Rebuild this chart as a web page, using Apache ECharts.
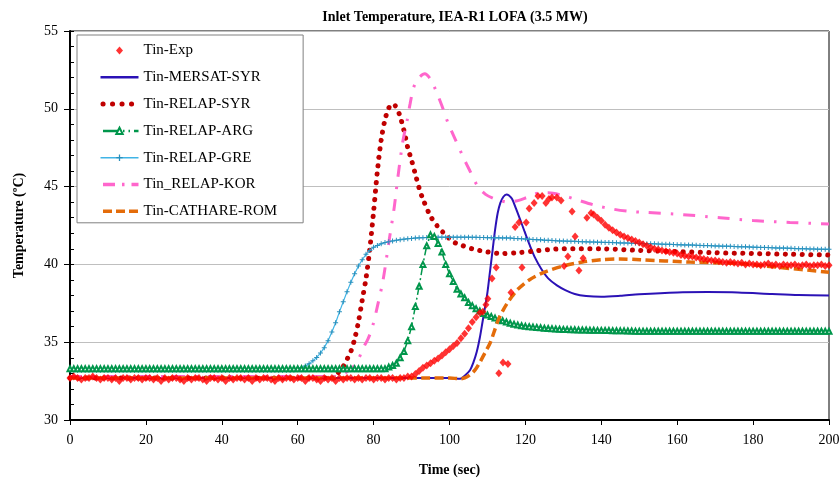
<!DOCTYPE html>
<html><head><meta charset="utf-8">
<script src="https://cdn.jsdelivr.net/npm/echarts@6/dist/echarts.min.js"></script>
<style>html,body{margin:0;padding:0;background:#fff}#c{width:840px;height:483px}</style>
</head><body><div id="c"></div>
<script>
// ---- data ----
const seriesNames = ['Tin-Exp','Tin-MERSAT-SYR','Tin-RELAP-SYR','Tin-RELAP-ARG','Tin-RELAP-GRE','Tin_RELAP-KOR','Tin-CATHARE-ROM'];
const xTicks = [0,20,40,60,80,100,120,140,160,180,200];
const yTicks = [30,35,40,45,50,55];

// Experiment: flat part, one value per second from t = 0 s
const expFlat = [32.7,32.8,32.7,32.6,32.7,32.7,32.8,32.7,32.6,32.7,
 32.7,32.6,32.7,32.5,32.7,32.7,32.6,32.7,32.7,32.6,
 32.7,32.7,32.6,32.7,32.5,32.7,32.6,32.7,32.7,32.6,
 32.5,32.7,32.6,32.7,32.7,32.6,32.5,32.7,32.7,32.6,
 32.7,32.5,32.7,32.6,32.7,32.7,32.6,32.7,32.5,32.7,
 32.6,32.7,32.7,32.6,32.5,32.7,32.6,32.7,32.7,32.6,
 32.7,32.7,32.5,32.7,32.7,32.6,32.5,32.7,32.6,32.7,
 32.5,32.7,32.6,32.7,32.7,32.6,32.7,32.6,32.7,32.7,
 32.6,32.7,32.7,32.6,32.7,32.7,32.6,32.7,32.7,32.8,32.8];
// Experiment: transient part [time, value]
const expTransient = [[91,32.95],[92,33.15],[93,33.35],[94,33.5],[95,33.65],[96,33.8],[97,33.95],[98,34.15],[99,34.35],[100,34.55],
 [101,34.75],[102,34.95],[103,35.25],[104,35.55],[105,35.9],[106,36.3],[107,36.6],[108,36.9],[108.8,36.95],[109.6,37.4],[110.1,37.8],
 [111.2,39.1],[112.3,39.8],[113.0,33.0],[114.1,33.7],[115.4,33.6],[116.2,38.2],[117.3,42.4],[118.3,42.7],[119.1,39.8],[120.2,42.7],
 [121.0,43.6],[122.3,43.95],[123.3,44.4],[124.4,44.4],[125.4,43.95],[126.2,44.2],[127.0,44.3],[128.3,44.3],[129.4,44.1],[130.2,39.9],
 [131.2,40.5],[132.3,43.4],[133.1,41.8],[134.1,39.6],[135.2,40.4],[136.2,43.0],[137.3,43.3]];
// Experiment: tail, one value per second from t = 138 s
const expTail = [43.2,43.0,42.8,42.55,42.35,42.2,42.05,41.9,41.8,41.7,41.6,41.5,41.4,
 41.3,41.2,41.1,41.0,40.95,40.9,40.85,40.8,40.75,40.7,
 40.6,40.55,40.5,40.5,40.45,40.4,40.35,40.3,40.25,40.25,
 40.2,40.15,40.1,40.15,40.1,40.05,40.1,40.0,40.05,40.0,
 40.0,39.95,40.0,40.05,39.95,40.0,39.9,40.0,39.95,39.95,
 40.0,39.9,39.95,40.0,39.9,39.95,39.95,40.0,39.9,39.95];

const mersatSyr = [[0,32.7],[100,32.7],[102.8,32.65],[104,32.85],[105.4,33.2],[106.3,33.7],[107.2,34.4],[108,35.3],[108.7,36.3],
 [109.4,37.3],[110,38.2],[110.7,39.6],[111.4,41.0],[112,42.2],[112.7,43.3],[113.4,43.95],[114.2,44.35],[115.0,44.5],[115.6,44.45],
 [116.5,44.2],[117.5,43.6],[118.6,42.9],[119.8,42.1],[121.2,41.2],[122.6,40.4],[124.2,39.7],[126,39.1],[128.3,38.65],[130.5,38.35],
 [133,38.1],[136,37.97],[140,37.92],[145,37.98],[150,38.08],[160,38.2],[168,38.22],[176,38.2],[185,38.1],[192,38.03],[200,38.0]];

const relapSyr = [[0,32.7],[70,32.7],[70.6,33.0],[71.9,33.4],[73,33.9],[74,34.4],[75,35.2],[76,36.3],[77,37.7],[78,39.1],
 [79,41.0],[80,43.4],[81,46.0],[82,48.0],[83,49.3],[84,50.05],[84.8,50.3],[85.5,50.25],[86.2,50.0],[87,49.5],[88,48.6],
 [89,47.5],[90,46.7],[91,45.8],[92,44.9],[93,44.2],[95,43.1],[97,42.4],[99,41.9],[101,41.45],[103,41.25],[106,41.0],
 [110,40.8],[114,40.7],[118,40.75],[122,40.85],[126,40.95],[130,41.0],[140,41.0],[150,40.9],[160,40.82],[170,40.75],
 [180,40.7],[190,40.65],[200,40.6]];

// RELAP-ARG, one value per second from t = 0 s
const relapArg = [33.3,33.3,33.3,33.3,33.3,33.3,33.3,33.3,33.3,33.3,
 33.3,33.3,33.3,33.3,33.3,33.3,33.3,33.3,33.3,33.3,
 33.3,33.3,33.3,33.3,33.3,33.3,33.3,33.3,33.3,33.3,
 33.3,33.3,33.3,33.3,33.3,33.3,33.3,33.3,33.3,33.3,
 33.3,33.3,33.3,33.3,33.3,33.3,33.3,33.3,33.3,33.3,
 33.3,33.3,33.3,33.3,33.3,33.3,33.3,33.3,33.3,33.3,
 33.3,33.3,33.3,33.3,33.3,33.3,33.3,33.3,33.3,33.3,
 33.3,33.3,33.3,33.3,33.3,33.3,33.3,33.3,33.3,33.3,
 33.3,33.3,33.3,33.3,
 33.4,33.5,33.65,34.0,34.4,35.1,36.0,37.3,38.6,40.0,41.2,41.9,41.8,41.35,40.8,40.0,
 39.4,38.9,38.4,38.1,37.85,37.55,37.35,37.15,37.0,36.85,36.75,36.65,36.55,36.45,36.38,36.3,
 36.22,36.16,36.1,36.06,36.02,36.0,35.97,35.95,35.93,35.9,35.88,35.87,35.85,35.84,35.82,35.81,
 35.8,35.8,35.79,35.78,35.78,35.77,35.77,35.76,35.76,
 35.75,35.75,35.74,35.74,35.73,35.73,35.72,35.72,35.71,35.71,
 35.7,35.7,35.7,35.7,35.7,35.7,35.7,35.7,35.7,35.7,
 35.7,35.7,35.7,35.7,35.7,35.7,35.7,35.7,35.7,35.7,
 35.7,35.7,35.7,35.7,35.7,35.7,35.7,35.7,35.7,35.7,
 35.7,35.7,35.7,35.7,35.7,35.7,35.7,35.7,35.7,35.7,
 35.7,35.7,35.7,35.7,35.7,35.7,35.7,35.7,35.7,35.7];

// RELAP-GRE, one value per second from t = 0 s
const relapGre = [33.2,33.2,33.2,33.2,33.2,33.2,33.2,33.2,33.2,33.2,
 33.2,33.2,33.2,33.2,33.2,33.2,33.2,33.2,33.2,33.2,
 33.2,33.2,33.2,33.2,33.2,33.2,33.2,33.2,33.2,33.2,
 33.2,33.2,33.2,33.2,33.2,33.2,33.2,33.2,33.2,33.2,
 33.2,33.2,33.2,33.2,33.2,33.2,33.2,33.2,33.2,33.2,
 33.2,33.2,33.2,33.2,33.2,33.2,33.2,33.2,33.2,
 33.22,33.28,33.36,33.47,33.62,33.8,34.02,34.3,34.65,35.1,35.65,36.25,36.95,37.6,38.25,38.85,
 39.4,39.9,40.3,40.65,40.9,41.1,41.22,41.32,41.4,41.46,41.51,41.55,41.59,41.62,41.65,41.67,
 41.69,41.71,41.72,41.73,41.74,
 41.75,41.75,41.75,41.75,41.75,41.75,41.75,41.75,41.75,41.75,
 41.74,41.74,41.73,41.73,41.72,41.72,41.71,41.71,41.7,41.7,
 41.69,41.67,41.66,41.65,41.63,41.62,41.6,41.59,41.58,41.56,41.55,41.54,41.52,41.51,41.5,
 41.49,41.48,41.48,41.47,41.46,41.45,41.44,41.44,41.43,41.42,
 41.41,41.41,41.4,41.39,41.38,41.38,41.37,41.36,41.36,41.35,
 41.34,41.33,41.33,41.32,41.31,41.3,41.29,41.29,41.28,41.27,
 41.26,41.25,41.25,41.24,41.23,41.22,41.21,41.21,41.2,41.19,
 41.18,41.17,41.17,41.16,41.15,41.14,41.13,41.13,41.12,41.11,
 41.1,41.09,41.09,41.08,41.07,41.06,41.05,41.05,41.04,41.03,
 41.02,41.01,41.01,41.0,40.99,40.99,40.98,40.98,40.97,40.97];

const relapKor = [[0,32.8],[70,32.8],[72,32.95],[74.6,33.4],[76,33.9],[77.2,34.6],[78.5,35.2],[79.6,35.9],[81,37.3],[82.5,39.0],
 [84,41.4],[85.4,43.6],[86.4,45.6],[87.7,47.9],[88.8,49.2],[89.6,50.3],[90.6,51.4],[92,52.0],[93.5,52.25],[95,51.9],[96.2,51.3],
 [98,50.2],[99.6,49.1],[101.4,48.1],[103.6,46.9],[105.4,46.0],[107.5,45.0],[109.5,44.5],[111.5,44.25],[113.5,44.1],[115.4,44.0],
 [118,44.1],[120.4,44.3],[123.8,44.6],[126,44.6],[129.6,44.45],[133.6,44.15],[138.3,43.8],[143.1,43.55],[147.6,43.4],[151,43.35],
 [161.5,43.2],[171.3,43.0],[180,42.82],[189.7,42.7],[200,42.6]];

const cathareRom = [[0,32.7],[100,32.7],[102.8,32.65],[104,32.7],[105.4,32.9],[106.7,33.2],[108,33.7],[109.3,34.3],[110.7,34.95],
 [111.8,35.7],[112.8,36.4],[114,37.0],[115.2,37.5],[116.5,37.95],[118,38.4],[121,39.0],[125,39.5],[130,39.9],[135,40.15],
 [140,40.3],[145,40.35],[150.2,40.3],[163.4,40.15],[176.5,40.05],[187.1,39.8],[200,39.5]];

// ---- chart ----
const SERIF = 'Liberation Serif';
const perSecond = (arr, t0) => arr.map((v, i) => [t0 + i, v]);
const expData = perSecond(expFlat, 0).concat(expTransient, perSecond(expTail, 138));
const hideSymbol = {opacity: 0};

const chart = echarts.init(document.getElementById('c'), null, {renderer: 'canvas'});
chart.setOption({
  animation: false,
  backgroundColor: '#fff',
  title: {
    text: 'Inlet Temperature, IEA-R1 LOFA (3.5 MW)',
    left: 450, top: 5, textAlign: 'center',
    textStyle: {fontFamily: SERIF, fontSize: 14, fontWeight: 'bold', color: '#000'}
  },
  grid: {left: 70, right: 11, top: 31, bottom: 63, show: true, borderColor: '#000', borderWidth: 1,
         backgroundColor: 'transparent', containLabel: false, outerBoundsMode: 'none'},
  legend: {
    orient: 'vertical', left: 77, top: 35,
    padding: [8, 26, 4, 21],
    itemWidth: 38, itemHeight: 8, itemGap: 11.8,
    backgroundColor: '#fff', borderColor: '#808080', borderWidth: 1,
    textStyle: {fontFamily: SERIF, fontSize: 15, color: '#000'},
    data: [
      {name: seriesNames[0], icon: 'path://M0,0M14,8M7,0L10.5,4L7,8L3.5,4Z'},
      {name: seriesNames[1], itemStyle: hideSymbol, lineStyle: {width: 2.5}},
      {name: seriesNames[2], itemStyle: hideSymbol, lineStyle: {width: 5, type: [0.1, 9.4], cap: 'round', dashOffset: -2.5}},
      {name: seriesNames[3], lineStyle: {width: 2.5, type: [16, 4, 1.5, 4, 1.5, 4]}},
      {name: seriesNames[4], lineStyle: {width: 1.5}},
      {name: seriesNames[5], itemStyle: hideSymbol, lineStyle: {width: 3.5, type: [12, 7, 2.5, 7]}},
      {name: seriesNames[6], itemStyle: hideSymbol, lineStyle: {width: 3.5, type: [9, 4]}}
    ]
  },
  xAxis: {
    type: 'value', min: xTicks[0], max: xTicks[xTicks.length - 1], interval: 20,
    name: 'Time (sec)', nameLocation: 'middle', nameGap: 43,
    nameTextStyle: {fontFamily: SERIF, fontSize: 14, fontWeight: 'bold', color: '#000'},
    axisLine: {show: true, onZero: false, lineStyle: {color: '#000', width: 2}},
    axisTick: {show: true, length: 5, lineStyle: {color: '#000', width: 1}},
    axisLabel: {fontFamily: SERIF, fontSize: 14, color: '#000', margin: 13},
    splitLine: {show: false}
  },
  yAxis: [{
    type: 'value', min: yTicks[0], max: yTicks[yTicks.length - 1], interval: 5,
    name: 'Temperature (ºC)', nameLocation: 'middle', nameGap: 44,
    nameTextStyle: {fontFamily: SERIF, fontSize: 14, fontWeight: 'bold', color: '#000'},
    axisLine: {show: true, onZero: false, lineStyle: {color: '#000', width: 2}},
    axisTick: {show: true, length: 6, lineStyle: {color: '#000', width: 1}},
    axisLabel: {fontFamily: SERIF, fontSize: 14, color: '#000', margin: 12},
    splitLine: {show: true, lineStyle: {color: '#BFBFBF', width: 1}}
  }, {
    type: 'value', min: yTicks[0], max: yTicks[yTicks.length - 1], interval: 1, position: 'left', offset: 0,
    axisLine: {show: false}, axisLabel: {show: false}, splitLine: {show: false},
    axisTick: {show: true, inside: true, length: 4, lineStyle: {color: '#000', width: 1}}
  }],
  series: [
    {name: seriesNames[0], type: 'scatter', data: expData, symbol: 'diamond', symbolSize: [7, 8],
     itemStyle: {color: '#FF0000'}, z: 5},
    {name: seriesNames[1], type: 'line', data: mersatSyr, symbol: 'none', smooth: 0.3,
     lineStyle: {color: '#2B12B6', width: 2}, itemStyle: {color: '#2B12B6'}, z: 2},
    {name: seriesNames[2], type: 'line', data: relapSyr, symbol: 'none', smooth: 0.3,
     lineStyle: {color: '#C00000', width: 5, type: [0.1, 8.4], cap: 'round'}, itemStyle: {color: '#C00000'}, z: 2},
    {name: seriesNames[3], type: 'line', data: perSecond(relapArg, 0), symbol: 'emptyTriangle', symbolSize: 5,
     showSymbol: true, showAllSymbol: true,
     lineStyle: {color: '#00964B', width: 1.5, type: [12, 3, 2, 3]}, itemStyle: {color: '#00964B', borderWidth: 1}, z: 3},
    {name: seriesNames[4], type: 'line', data: perSecond(relapGre, 0), symbol: 'path://M2,0H3V2H5V3H3V5H2V3H0V2H2Z', symbolSize: 5,
     showSymbol: true, showAllSymbol: true,
     lineStyle: {color: '#40B4E6', width: 1.2}, itemStyle: {color: '#2A90BC'}, z: 2},
    {name: seriesNames[5], type: 'line', data: relapKor, symbol: 'none', smooth: 0.3,
     lineStyle: {color: '#FF66CC', width: 3, type: [12, 10, 2.5, 10]}, itemStyle: {color: '#FF66CC'}, z: 2},
    {name: seriesNames[6], type: 'line', data: cathareRom, symbol: 'none', smooth: 0.3,
     lineStyle: {color: '#E46C0A', width: 3.5, type: [9, 4.5]}, itemStyle: {color: '#E46C0A'}, z: 4}
  ]
});
</script></body></html>
